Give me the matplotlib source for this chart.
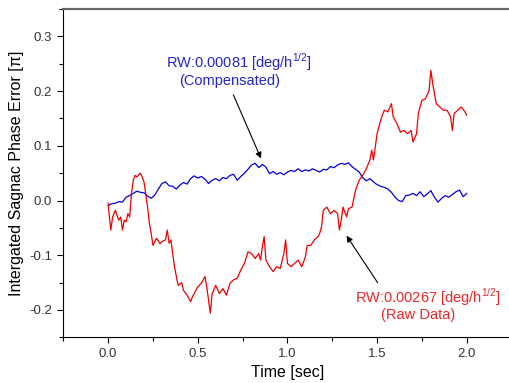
import numpy as np
import matplotlib
matplotlib.use("Agg")
import matplotlib.pyplot as plt
from matplotlib.ticker import MultipleLocator

plt.rcParams['font.family'] = ['Liberation Sans', 'DejaVu Sans']
plt.rcParams['mathtext.fontset'] = 'custom'
plt.rcParams['mathtext.rm'] = 'Liberation Sans'

# compensated trace (blue), one reading every 0.02 s
t_comp = np.linspace(0, 2, 101)
comp = [-0.009, -0.006, -0.005, -0.002, -0.003, 0.006, 0.009, 0.013, 0.017, 0.015,
        0.014, 0.008, 0.004, 0.010, 0.021, 0.031, 0.034, 0.027, 0.026, 0.021,
        0.028, 0.033, 0.030, 0.040, 0.045, 0.041, 0.044, 0.039, 0.031, 0.037,
        0.040, 0.036, 0.042, 0.040, 0.046, 0.048, 0.037, 0.044, 0.050, 0.057,
        0.065, 0.068, 0.060, 0.066, 0.061, 0.049, 0.053, 0.048, 0.051, 0.047,
        0.052, 0.055, 0.053, 0.058, 0.053, 0.056, 0.054, 0.058, 0.055, 0.052,
        0.057, 0.056, 0.062, 0.060, 0.065, 0.068, 0.066, 0.069, 0.062, 0.057,
        0.052, 0.042, 0.036, 0.040, 0.034, 0.029, 0.026, 0.024, 0.021, 0.015,
        0.006, 0.000, -0.002, 0.009, 0.010, 0.013, 0.009, 0.016, 0.007, 0.012,
        0.018, 0.006, -0.003, 0.004, 0.009, 0.006, 0.011, 0.016, 0.019, 0.007,
        0.013]

# raw data trace (red)
t_raw = [0, .005, .015, .025, .04, .05, .06, .07, .08, .09, .10, .11, .12, .13, .14, .15,
         .16, .18, .19, .20, .22, .23, .24, .25, .27, .29, .30, .32, .33, .34, .35, .37,
         .39, .41, .42, .44, .46, .47, .48, .50, .52, .54, .55, .57, .58, .60, .62, .64,
         .66, .68, .70, .72, .74, .76, .78, .80, .82, .84, .85, .86, .87, .88, .90, .92,
         .94, .96, .98, .99, 1.0, 1.02, 1.04, 1.06, 1.08, 1.10, 1.11, 1.13, 1.15, 1.17,
         1.18, 1.19, 1.20, 1.22, 1.24, 1.26, 1.28, 1.29, 1.30, 1.31, 1.33, 1.34, 1.36,
         1.38, 1.40, 1.42, 1.44, 1.46, 1.47, 1.48, 1.50, 1.52, 1.54, 1.56, 1.58, 1.59,
         1.61, 1.63, 1.65, 1.67, 1.69, 1.70, 1.72, 1.73, 1.75, 1.77, 1.79, 1.80, 1.81,
         1.83, 1.85, 1.87, 1.89, 1.91, 1.92, 1.93, 1.95, 1.97, 1.99, 2.00]
raw = [-0.005, -0.024, -0.054, -0.030, -0.018, -0.028, -0.036, -0.030, -0.054, -0.036,
       -0.039, -0.024, -0.030, 0.013, 0.037, 0.046, 0.043, 0.050, 0.043, 0.034, -0.012,
       -0.042, -0.060, -0.082, -0.069, -0.079, -0.075, -0.072, -0.054, -0.078, -0.072,
       -0.121, -0.155, -0.150, -0.164, -0.173, -0.185, -0.176, -0.170, -0.158, -0.151,
       -0.139, -0.158, -0.206, -0.170, -0.155, -0.170, -0.161, -0.173, -0.151, -0.145,
       -0.142, -0.127, -0.115, -0.094, -0.097, -0.106, -0.097, -0.109, -0.085, -0.066,
       -0.109, -0.121, -0.130, -0.121, -0.124, -0.097, -0.072, -0.115, -0.121, -0.115,
       -0.109, -0.121, -0.103, -0.082, -0.082, -0.072, -0.066, -0.060, -0.048, -0.018,
       -0.012, -0.024, -0.018, -0.024, -0.054, -0.036, -0.012, -0.030, -0.015, -0.012,
       0.019, 0.037, 0.046, 0.058, 0.074, 0.092, 0.074, 0.122, 0.147, 0.165, 0.162,
       0.177, 0.153, 0.141, 0.125, 0.128, 0.122, 0.128, 0.107, 0.122, 0.159, 0.183,
       0.186, 0.201, 0.238, 0.214, 0.177, 0.171, 0.165, 0.165, 0.153, 0.128, 0.159,
       0.165, 0.171, 0.162, 0.156]

fig = plt.figure(figsize=(5.09, 3.83), dpi=100)
ax = fig.add_axes([0.1244, 0.1193, 0.8806, 0.8572])

ax.plot(t_comp, comp, color='#0000dd', lw=0.9)
ax.plot(t_raw, raw, color='#ee0000', lw=0.9)

ax.set_xlim(-0.25, 2.25)
ax.set_ylim(-0.25, 0.35)
ax.xaxis.set_major_locator(MultipleLocator(0.5))
ax.xaxis.set_minor_locator(MultipleLocator(0.25))
ax.yaxis.set_major_locator(MultipleLocator(0.1))
ax.yaxis.set_minor_locator(MultipleLocator(0.05))
ax.xaxis.set_major_formatter(plt.FuncFormatter(lambda v, p: '%.1f' % v))
ax.yaxis.set_major_formatter(plt.FuncFormatter(lambda v, p: '%.1f' % v))
ax.tick_params(which='major', direction='out', length=4.5, width=0.8, labelsize=9.5,
               pad=3.5, colors='black', labelcolor='#333333')
ax.tick_params(which='minor', direction='out', length=3, width=0.8)
ax.spines['right'].set_visible(False)
ax.spines['top'].set_color('#666666')
ax.spines['top'].set_linewidth(1.6)

ax.set_xlabel('Time [sec]', fontsize=11.5, labelpad=3)
ax.set_ylabel('Intergated Sagnac Phase Error [π]', fontsize=11.5, labelpad=4)

# annotations
ax.text(0.322, 0.252, r'RW:0.00081 [deg/h$^{\mathrm{1/2}}$]', color='#2424cc',
        fontsize=10.5, va='center', ha='left')
ax.text(0.395, 0.218, '(Compensated)', color='#2424cc', fontsize=10.5,
        va='center', ha='left')
ax.annotate('', xy=(0.859, 0.072), xytext=(0.692, 0.198),
            arrowprops=dict(arrowstyle='-|>', color='black', lw=0.8,
                            mutation_scale=9))

ax.text(1.378, -0.176, r'RW:0.00267 [deg/h$^{\mathrm{1/2}}$]', color='#e82828',
        fontsize=10.5, va='center', ha='left')
ax.text(1.522, -0.209, '(Raw Data)', color='#e82828', fontsize=10.5,
        va='center', ha='left')
ax.annotate('', xy=(1.321, -0.060), xytext=(1.512, -0.1545),
            arrowprops=dict(arrowstyle='-|>', color='black', lw=0.8,
                            mutation_scale=9))

fig.savefig('out.png', dpi=100)
